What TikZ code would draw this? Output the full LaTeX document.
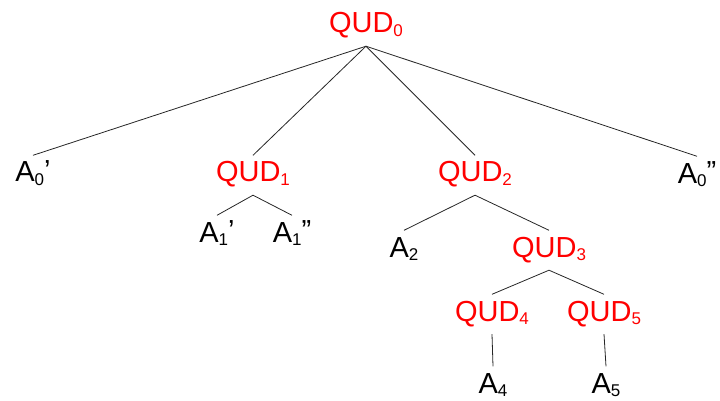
\documentclass[tikz,border=0pt]{standalone}
\usepackage{fontspec}
\setmainfont{Liberation Sans}
\newcommand\sbs[1]{\raisebox{-3.5pt}{\fontsize{17}{17}\selectfont #1}}
\newcommand\prm[1]{\raisebox{1.5pt}{#1}}
\tikzset{
  lbl/.style={anchor=base, inner xsep=0pt, inner ysep=5.5pt, text height=21pt, text depth=7.5pt, font=\fontsize{29}{31}\selectfont},
  qud/.style={lbl, text=red},
  ans/.style={lbl, text=black},
  edge/.style={draw=black!85, line width=0.8pt}
}
\begin{document}
\begin{tikzpicture}[x=1pt,y=1pt]
\useasboundingbox (0,0) rectangle (720,-401);
\node[qud] (q0) at (366,-33) {QUD\sbs{0}};
\node[ans] (a0p) at (33,-182) {A\sbs{0}\prm{’}};
\node[qud] (q1) at (253,-182) {QUD\sbs{1}};
\node[qud] (q2) at (475,-182) {QUD\sbs{2}};
\node[ans] (a0pp) at (697,-183) {A\sbs{0}\prm{”}};
\node[ans] (a1p) at (217,-242) {A\sbs{1}\prm{’}};
\node[ans] (a1pp) at (292,-242) {A\sbs{1}\prm{”}};
\node[ans] (a2) at (404,-257) {A\sbs{2}};
\node[qud] (q3) at (549,-257) {QUD\sbs{3}};
\node[qud] (q4) at (492,-321) {QUD\sbs{4}};
\node[qud] (q5) at (604,-321) {QUD\sbs{5}};
\node[ans] (a4) at (493,-393) {A\sbs{4}};
\node[ans] (a5) at (606,-393) {A\sbs{5}};
\draw[edge] (a0p.north) -- (q0.south) -- (a0pp.north);
\draw[edge] (q1.north) -- (q0.south) -- (q2.north);
\draw[edge] (a1p.north) -- (q1.south) -- (a1pp.north);
\draw[edge] (a2.north) -- (q2.south) -- (q3.north);
\draw[edge] (q4.north) -- (q3.south) -- (q5.north);
\draw[edge] (q4.south) -- (a4.north);
\draw[edge] (q5.south) -- (a5.north);
\end{tikzpicture}
\end{document}
